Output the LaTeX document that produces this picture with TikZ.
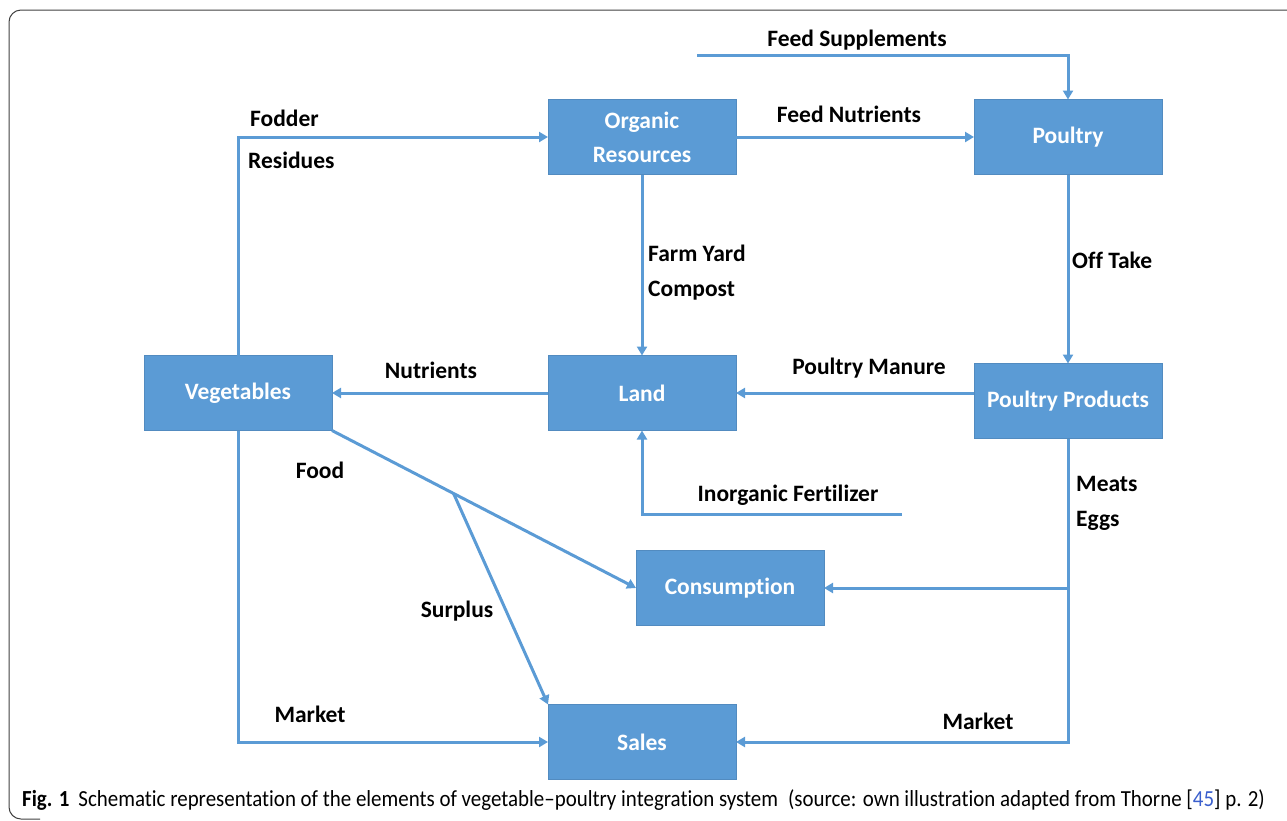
\documentclass[tikz,border=0pt]{standalone}
\usepackage{fontspec}
\setmainfont{Carlito}[Ligatures=NoCommon]
\usepackage{xcolor}
\usetikzlibrary{positioning, arrows.meta, calc}
\definecolor{boxblue}{HTML}{5B9BD5}
\definecolor{refblue}{HTML}{3A5FCD}

\begin{document}
\begin{tikzpicture}[
    x=1pt, y=-1pt,
    node distance=181pt,
    >={Triangle[length=9pt, width=10pt]},
    box/.style={draw=boxblue!90!black, line width=0.6pt, fill=boxblue, minimum width=188pt, minimum height=75pt, inner sep=0pt, outer sep=0pt, text=white, font=\fontsize{23.5}{34}\selectfont\bfseries, align=center},
    lbl/.style={font=\fontsize{23.5}{35}\selectfont\bfseries, inner sep=0pt, align=left},
    flow/.style={->, line width=3pt, boxblue}
]
\useasboundingbox (0,0) rectangle (1287,820);
\draw[rounded corners=12pt, line width=1pt, black!75] (1300,10) -- (9,10) -- (9,819) -- (40,819);

% boxes
\node[box] (org) at (642,137) {Organic\\Resources};
\node[box, right=238pt of org] (poultry) {Poultry};
\node[box, below=181pt of org] (land) {Land};
\node[box, left=216pt of land] (veg) {Vegetables};
\node[box, below=189pt of poultry] (pp) {Poultry Products};
\node[box] (cons) at (730,588) {Consumption};
\node[box, below=274pt of land] (sales) {Sales};

% free ends
\coordinate (fs) at (697,55);
\coordinate (inorg) at (902,514);
\coordinate (fork) at ($(veg.south east)!0.4!(cons.west)$);

% connectors
\draw[flow] (fs) -| (poultry.north);
\draw[flow] (org) -- (poultry);
\draw[flow] (veg.north) |- (org.west);
\draw[flow] (org) -- (land);
\draw[flow] (poultry) -- (pp);
\draw[flow] (land.east -| pp.west) -- (land.east);
\draw[flow] (land) -- (veg);
\draw[flow] (inorg) -| (land.south);
\draw[flow] (veg.south east) -- (cons.west);
\draw[flow] (fork) -- (sales.north west);
\draw[flow] (veg.south) |- (sales.west);
\draw[flow] (pp.south) |- (sales.east);
\draw[flow] (pp.south |- cons.east) -- (cons.east);

% labels
\node[lbl] (lfs) at (857,40) {Feed Supplements};
\node[lbl] (lfn) at (849,114) {Feed Nutrients};
\node[lbl, anchor=west] (lfod) at (250,118) {Fodder};
\node[lbl, anchor=west] (lres) at (248,160) {Residues};
\node[lbl, anchor=west] (lfyc) at (648,273) {Farm Yard\\Compost};
\node[lbl, anchor=west] (loff) at (1072,260) {Off Take};
\node[lbl] (lpm) at (869,368) {Poultry Manure};
\node[lbl] (lnut) at (431,370) {Nutrients};
\node[lbl] (linf) at (788,495) {Inorganic Fertilizer};
\node[lbl] (lfood) at (320,470) {Food};
\node[lbl] (lsur) at (457,611) {Surplus};
\node[lbl] (lmk1) at (310,714) {Market};
\node[lbl] (lmk2) at (978,721) {Market};
\node[lbl, anchor=west] (lme) at (1076,503) {Meats\\Eggs};

% caption
\node[font=\fontsize{23}{26}\selectfont, anchor=west, inner sep=0pt] (caption) at (22,800)
  {\scalebox{0.91}[1]{\textbf{Fig. 1}\hspace{10pt}Schematic representation of the elements of vegetable–poultry integration system\hspace{11pt}(source: own illustration adapted from Thorne [\textcolor{refblue}{45}] p. 2)}};

\end{tikzpicture}
\end{document}
